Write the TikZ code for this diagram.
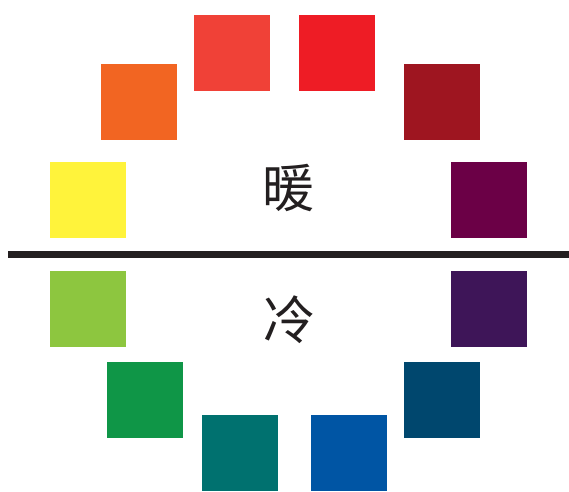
\documentclass[tikz,border=0pt]{standalone}
\usepackage{fontspec}
\newfontfamily\cjk{Noto Sans CJK SC}
\definecolor{cA}{HTML}{F04137}
\definecolor{cB}{HTML}{EE1C25}
\definecolor{cC}{HTML}{F26522}
\definecolor{cD}{HTML}{9E1520}
\definecolor{cE}{HTML}{FFF33B}
\definecolor{cF}{HTML}{6B0046}
\definecolor{cG}{HTML}{8DC63F}
\definecolor{cH}{HTML}{3E1558}
\definecolor{cI}{HTML}{0F9647}
\definecolor{cJ}{HTML}{00476E}
\definecolor{cK}{HTML}{00716F}
\definecolor{cL}{HTML}{0055A4}
\definecolor{linec}{HTML}{231F20}
\begin{document}
\begin{tikzpicture}[x=1pt,y=-1pt,
  swatch/.style={draw=none,fill=#1,minimum size=76pt,inner sep=0pt,outer sep=0pt,anchor=north west},
  word/.style={font=\cjk\fontsize{52}{52}\selectfont,text=linec,inner sep=0pt}]
\useasboundingbox (0,0) rectangle (569,491);
\node[swatch=cA] (s1) at (194,15) {};
\node[swatch=cB] (s2) at (299,15) {};
\node[swatch=cC] (s3) at (101,64) {};
\node[swatch=cD] (s4) at (404,64) {};
\node[swatch=cE] (s5) at (50,162) {};
\node[swatch=cF] (s6) at (451,162) {};
\node[swatch=cG] (s7) at (50,271) {};
\node[swatch=cH] (s8) at (451,271) {};
\node[swatch=cI] (s9) at (107,362) {};
\node[swatch=cJ] (s10) at (404,362) {};
\node[swatch=cK] (s11) at (202,415) {};
\node[swatch=cL] (s12) at (311,415) {};
\coordinate (l1) at (8,254);
\coordinate (l2) at (569,254);
\draw[linec,line width=7pt] (l1) -- (l2);
\node[word] (warm) at (288,188) {暖};
\node[word] (cold) at (289,320) {冷};
\end{tikzpicture}
\end{document}
